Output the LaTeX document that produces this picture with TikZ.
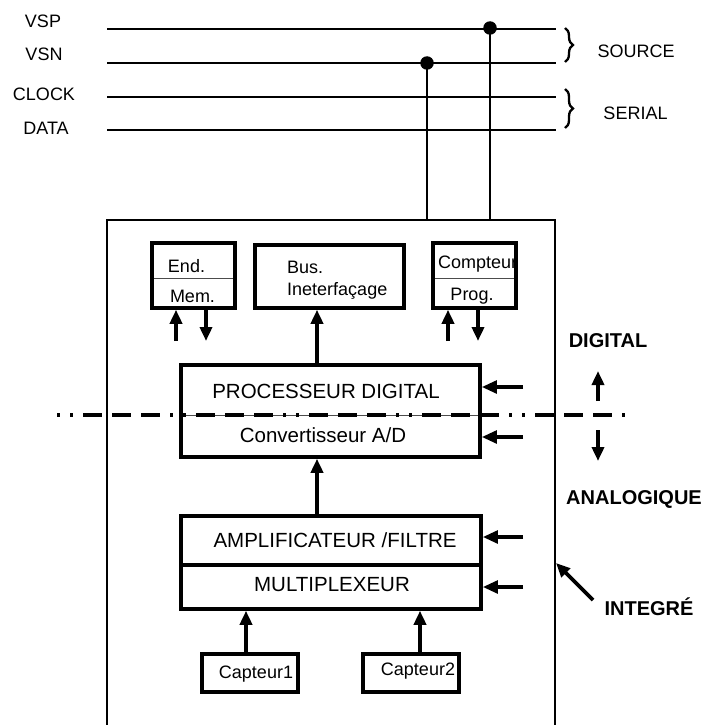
\documentclass[tikz,border=0pt]{standalone}
\usepackage{fontspec}
\setmainfont{Liberation Sans}
\usetikzlibrary{arrows.meta,decorations.pathreplacing}
\tikzset{
  wire/.style={line width=1.8pt},
  chipline/.style={line width=1.6pt},
  blk/.style={draw, line width=3.5pt, rectangle, inner sep=0pt},
  divthin/.style={line width=1pt, black!70},
  divthick/.style={line width=3.5pt},
  arr/.style={line width=3.6pt, -{Triangle[length=14pt,width=12pt]}},
  bigarr/.style={line width=3.6pt, -{Triangle[length=15pt,width=12.5pt]}},
  sm/.style={inner sep=0pt, font=\fontsize{18}{20}\selectfont},
  big/.style={inner sep=0pt, font=\fontsize{20.5}{23}\selectfont},
  bld/.style={inner sep=0pt, font=\fontsize{20}{22}\selectfont\bfseries},
  dot/.style={circle, fill, inner sep=0pt, minimum size=13.5pt},
  bracestyle/.style={line width=2.3pt, decorate, decoration={brace, amplitude=8pt}},
  dashdot/.style={line width=4pt, dash pattern=on 3pt off 10pt on 3pt off 10pt on 19pt off 10pt on 19pt off 10pt on 19pt off 10pt}
}
\begin{document}
\begin{tikzpicture}[x=1pt,y=-1pt]
\useasboundingbox[fill=white] (0,0) rectangle (707,725);

% bus lines
\coordinate (vspL) at (107,29);  \coordinate (vspR) at (556,29);
\coordinate (vsnL) at (107,63);  \coordinate (vsnR) at (556,63);
\coordinate (clkL) at (107,97);  \coordinate (clkR) at (556,97);
\coordinate (datL) at (107,130); \coordinate (datR) at (556,130);
\draw[wire] (vspL) -- (vspR);
\draw[wire] (vsnL) -- (vsnR);
\draw[wire] (clkL) -- (clkR);
\draw[wire] (datL) -- (datR);

\node[sm] (lvsp) at (43,21) {VSP};
\node[sm] (lvsn) at (44,54) {VSN};
\node[sm] (lclk) at (44,94) {CLOCK};
\node[sm] (ldat) at (46,128) {DATA};

% braces
\coordinate (b1t) at (565,28); \coordinate (b1b) at (565,62);
\coordinate (b2t) at (565,89); \coordinate (b2b) at (565,128);
\draw[bracestyle] (b1t) -- (b1b);
\draw[bracestyle] (b2t) -- (b2b);
\node[sm] (lsrc) at (636,51) {SOURCE};
\node[sm] (lser) at (635.5,113) {SERIAL};

% chip outline
\coordinate (chipTL) at (107,220);
\coordinate (chipTR) at (555,220);
\coordinate (chipBL) at (107,725);
\coordinate (chipBR) at (555,725);
\draw[chipline] (chipBL) -- (chipTL) -- (chipTR) -- (chipBR);

% supply taps
\node[dot] (dotP) at (490,28) {};
\node[dot] (dotN) at (427,63) {};
\draw[wire] (dotP.center) -- (dotP.center |- chipTR);
\draw[wire] (dotN.center) -- (dotN.center |- chipTR);

% top small boxes
\draw[divthin] (152,278) -- (235,278);
\node[blk, minimum width=83pt, minimum height=65pt] (endbox) at (193.5,275.5) {};
\node[blk, minimum width=149pt, minimum height=63pt] (busbox) at (329.5,276.5) {};
\draw[divthin] (433,278) -- (516,278);
\node[blk, minimum width=83pt, minimum height=65pt] (cptbox) at (474.5,275.5) {};

\node[sm] (tend) at (186.5,266) {End.};
\node[sm] (tmem) at (192.5,296) {Mem.};
\node[sm, anchor=west] (tbus) at (287,267) {Bus.};
\node[sm, anchor=west] (tint) at (287,291) {Ineterfaçage};
\node[sm, anchor=west] (tcpt) at (438,264) {Compteur};
\node[sm] (tprg) at (472,296) {Prog.};

% processor box
\draw[divthin] (181,415) -- (480,415);
\node[blk, minimum width=299pt, minimum height=92pt] (procbox) at (330.5,411) {};
\node[big] (tproc) at (326,391) {PROCESSEUR DIGITAL};
\node[big] (tconv) at (323,435) {Convertisseur A/D};

% domain separator
\coordinate (sepL) at (57,415); \coordinate (sepR) at (627,415);
\draw[dashdot] (sepL) -- (sepR);

% amplifier / multiplexer box
\draw[divthick] (181,565) -- (481,565);
\node[blk, minimum width=300pt, minimum height=93pt] (ampbox) at (331,562.5) {};
\node[big] (tamp) at (335,540) {AMPLIFICATEUR /FILTRE};
\node[big] (tmux) at (332,585) {MULTIPLEXEUR};

% sensors
\node[blk, minimum width=96pt, minimum height=38pt] (cap1) at (250,673) {};
\node[blk, minimum width=96pt, minimum height=38pt] (cap2) at (411,673) {};
\node[sm] (tcap1) at (256,674) {Capteur1};
\node[sm] (tcap2) at (418,671) {Capteur2};

% vertical arrows
\coordinate (aEu) at (176,341);
\coordinate (aEd) at (206,341);
\coordinate (aCu) at (448,341);
\coordinate (aCd) at (478,341);
\draw[arr] (aEu) -- (aEu |- endbox.south);
\draw[arr] (aEd |- endbox.south) -- (aEd);
\draw[arr] (aCu) -- (aCu |- cptbox.south);
\draw[arr] (aCd |- cptbox.south) -- (aCd);
\coordinate (xbus) at (317,0);
\draw[arr] (xbus |- procbox.north) -- (xbus |- busbox.south);
\draw[arr] (xbus |- ampbox.north) -- (xbus |- procbox.south);
\coordinate (xc1) at (246,0);
\coordinate (xc2) at (420,0);
\draw[arr] (xc1 |- cap1.north) -- (xc1 |- ampbox.south);
\draw[arr] (xc2 |- cap2.north) -- (xc2 |- ampbox.south);

% control arrows from the right
\coordinate (r1) at (523,387);
\coordinate (r2) at (523,437);
\coordinate (r3) at (523,537);
\coordinate (r4) at (523,587);
\draw[bigarr] (r1) -- (r1 -| procbox.east);
\draw[bigarr] (r2) -- (r2 -| procbox.east);
\draw[bigarr] (r3) -- (r3 -| ampbox.east);
\draw[bigarr] (r4) -- (r4 -| ampbox.east);

% domain labels
\node[bld] (ldig) at (608,341) {DIGITAL};
\node[bld] (lana) at (634,499.5) {ANALOGIQUE};
\node[bld] (lint) at (649,607) {INTEGRÉ};
\coordinate (dUp0) at (598,401); \coordinate (dUp1) at (598,371);
\coordinate (dDn0) at (598,430); \coordinate (dDn1) at (598,461);
\draw[arr] (dUp0) -- (dUp1);
\draw[arr] (dDn0) -- (dDn1);
\coordinate (iTail) at (593,600);
\coordinate (iTip) at (556,563);
\draw[arr] (iTail) -- (iTip);
\end{tikzpicture}
\end{document}
